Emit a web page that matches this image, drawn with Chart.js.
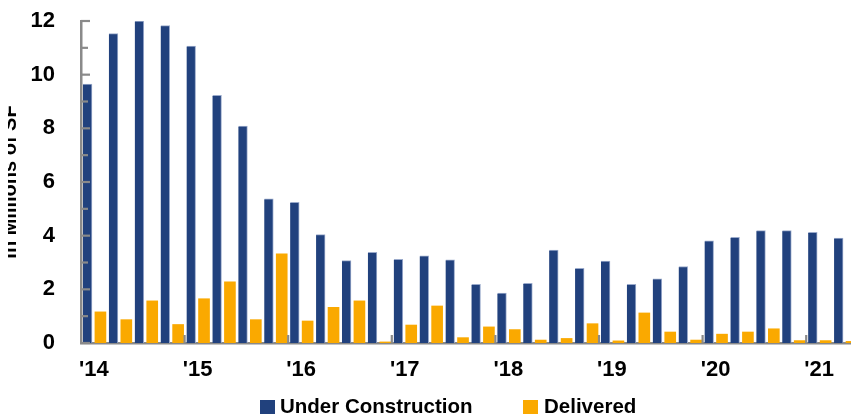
<!DOCTYPE html>
<html>
<head>
<meta charset="utf-8">
<script src="https://cdn.jsdelivr.net/npm/chart.js@4.4.1/dist/chart.umd.min.js"></script>
<style>
  html, body { margin: 0; padding: 0; background: #fff; overflow: hidden; width: 851px; height: 416px; }
  #wrap { position: relative; width: 851px; height: 416px; overflow: hidden; }
  #c { position: absolute; left: 0; top: 0; }
  #mask { position: absolute; left: 0; top: 0; width: 8px; height: 416px; background: #fff; }
  .leg { position: absolute; top: 396px; font: bold 20.5px "Liberation Sans", Arial, sans-serif; line-height: 20px; color: #000; white-space: nowrap; }
  .sw { position: absolute; top: 400px; width: 15px; height: 14px; }
</style>
</head>
<body>
<div id="wrap">
  <canvas id="c" width="860" height="416"></canvas>
  <div id="mask"></div>
  <div class="sw" style="left:260px;background:#21417D"></div>
  <div class="leg" id="l1" style="left:280px"></div>
  <div class="sw" style="left:523px;background:#FAA900"></div>
  <div class="leg" id="l2" style="left:544px"></div>
</div>
<script>
// Quarterly categories, 1Q14 .. 2Q21
const quarters = [
  "1Q14","2Q14","3Q14","4Q14",
  "1Q15","2Q15","3Q15","4Q15",
  "1Q16","2Q16","3Q16","4Q16",
  "1Q17","2Q17","3Q17","4Q17",
  "1Q18","2Q18","3Q18","4Q18",
  "1Q19","2Q19","3Q19","4Q19",
  "1Q20","2Q20","3Q20","4Q20",
  "1Q21","2Q21"
];
// Year tick labels (shown at each year's first quarter)
const yearLabels = ["'14","'15","'16","'17","'18","'19","'20","'21"];

const seriesNames = ["Under Construction", "Delivered"];

// In millions of SF
const underConstruction = [
  9.65, 11.53, 12.0, 11.83,
  11.07, 9.23, 8.08, 5.37,
  5.24, 4.04, 3.07, 3.38,
  3.12, 3.25, 3.10, 2.19,
  1.86, 2.22, 3.46, 2.78,
  3.05, 2.19, 2.39, 2.85,
  3.81, 3.94, 4.19, 4.19,
  4.12, 3.91
];
const delivered = [
  1.16, 0.87, 1.57, 0.69,
  1.65, 2.28, 0.87, 3.32,
  0.82, 1.33, 1.57, 0.04,
  0.67, 1.38, 0.20, 0.60,
  0.50, 0.11, 0.17, 0.72,
  0.08, 1.12, 0.41, 0.11,
  0.33, 0.41, 0.53, 0.09,
  0.09, 0.06
];

const NAVY = "#21417D";
const ORANGE = "#FAA900";
const AXIS = "#8A8A8A";
const FONT = "'Liberation Sans', Arial, sans-serif";

document.getElementById("l1").textContent = seriesNames[0];
document.getElementById("l2").textContent = seriesNames[1];

// Inward-pointing tick marks drawn from the scales
const innerTicks = {
  id: "innerTicks",
  afterDatasetsDraw(chart) {
    const ctx = chart.ctx;
    const y = chart.scales.y, x = chart.scales.x;
    const left = chart.chartArea.left, bottom = chart.chartArea.bottom;
    ctx.save();
    ctx.strokeStyle = AXIS;
    ctx.lineWidth = 2.2;
    for (let v = y.min; v <= y.max; v++) {
      const py = y.getPixelForValue(v);
      const len = (v % 2 === 0) ? 9 : 7;
      ctx.beginPath();
      ctx.moveTo(left, py);
      ctx.lineTo(left + len, py);
      ctx.stroke();
    }
    for (let i = 4; i < quarters.length; i += 4) {
      const px = (x.getPixelForValue(i - 1) + x.getPixelForValue(i)) / 2;
      ctx.beginPath();
      ctx.moveTo(px, bottom);
      ctx.lineTo(px, bottom - 8);
      ctx.stroke();
    }
    ctx.restore();
  }
};

new Chart(document.getElementById("c"), {
  type: "bar",
  data: {
    labels: quarters,
    datasets: [
      {
        label: seriesNames[0],
        data: underConstruction,
        backgroundColor: NAVY,
        borderColor: "#9AAACB",
        borderWidth: { top: 1, right: 1, left: 0, bottom: 0 },
        borderSkipped: "bottom",
        categoryPercentage: 1,
        barPercentage: 1,
        maxBarThickness: 9
      },
      {
        label: seriesNames[1],
        data: delivered,
        backgroundColor: ORANGE,
        borderWidth: 0,
        categoryPercentage: 1,
        barPercentage: 1,
        maxBarThickness: 11
      }
    ]
  },
  options: {
    responsive: false,
    animation: false,
    layout: { padding: { left: 0, top: 21, right: 2, bottom: 39 } },
    plugins: {
      legend: { display: false },
      tooltip: { enabled: false }
    },
    scales: {
      x: {
        grid: { display: false, drawTicks: false },
        border: { display: true, color: AXIS, width: 2.5 },
        ticks: {
          autoSkip: false,
          maxRotation: 0,
          minRotation: 0,
          padding: 14,
          color: "#000",
          font: { family: FONT, size: 22, weight: "bold" },
          callback: (v, i) => (i % 4 === 0 ? yearLabels[i / 4] : "")
        },
        afterFit: (s) => { s.height = 34; }
      },
      y: {
        min: 0,
        max: 12,
        grid: { display: false, drawTicks: true, tickLength: 19 },
        border: { display: true, color: AXIS, width: 2.5 },
        ticks: {
          stepSize: 2,
          padding: 7,
          color: "#000",
          font: { family: FONT, size: 22, weight: "bold" }
        },
        title: {
          display: true,
          text: "In Millions of SF",
          color: "#000",
          padding: { top: 0, bottom: 0 },
          font: { family: FONT, size: 20, weight: "bold", lineHeight: 1 }
        },
        afterFit: (s) => { s.width = 81; }
      }
    }
  },
  plugins: [innerTicks]
});
</script>
</body>
</html>
